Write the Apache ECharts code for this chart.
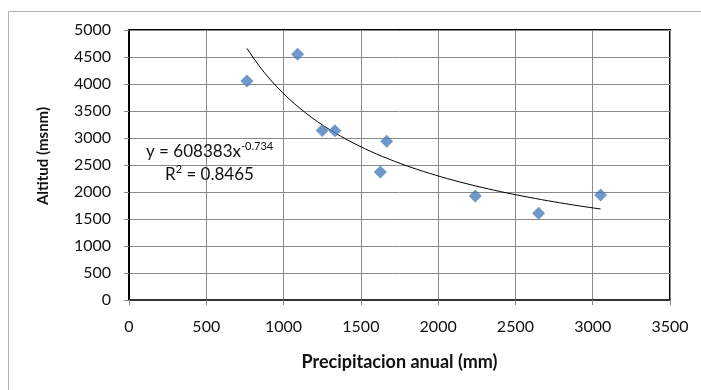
<!DOCTYPE html>
<html lang="es">
<head>
    <meta charset="UTF-8">
    <title>Altitud vs precipitacion</title>
    <script src="https://cdn.jsdelivr.net/npm/echarts@6/dist/echarts.min.js"></script>
    <style>
        html, body { margin: 0; padding: 0; background: #fff; }
        #main { width: 701px; height: 390px; }
    </style>
</head>
<body>
<div id="main"></div>
<script>
    // precipitacion anual (mm) y altitud (msnm)
    var precip = [763, 1091, 1250, 1332, 1626, 1667, 2240, 2650, 3051];
    var altitud = [4056, 4550, 3140, 3136, 2370, 2939, 1926, 1605, 1944];

    // coeficientes de la linea de tendencia (potencial) que muestra el grafico
    var coefA = 608383;
    var coefB = -0.734;
    var r2 = '0.8465';

    var puntos = precip.map(function (p, i) { return [p, altitud[i]]; });

    // curva de tendencia a partir de la ecuacion mostrada
    var xMin = Math.min.apply(null, precip), xMax = Math.max.apply(null, precip);
    var tendencia = [];
    for (var k = 0; k <= 60; k++) {
        var x = xMin + (xMax - xMin) * k / 60;
        tendencia.push([x, coefA * Math.pow(x, coefB)]);
    }

    var fuente = 'Lato, "Open Sans", sans-serif';
    var sinComa = function (v) { return String(v); };
    var myChart = echarts.init(document.getElementById('main'));

    var option = {
        animation: false,
        backgroundColor: '#fff',
        grid: {
            left: 129, right: 31, top: 30, bottom: 90,
            show: true, borderColor: '#000', borderWidth: 2
        },
        xAxis: {
            type: 'value', min: 0, max: 3500, interval: 500,
            name: 'Precipitacion anual (mm)',
            nameLocation: 'middle', nameGap: 53,
            nameTextStyle: { fontFamily: fuente, fontSize: 18, fontWeight: 'bold', color: '#111' },
            axisLine: { show: true, onZero: false, lineStyle: { color: '#333', width: 2 } },
            axisTick: { show: true, length: 5, lineStyle: { color: '#888' } },
            axisLabel: { fontFamily: fuente, fontSize: 16, color: '#111', margin: 19, formatter: sinComa },
            splitLine: { show: true, lineStyle: { color: '#8a8a8a', width: 1 } }
        },
        yAxis: {
            type: 'value', min: 0, max: 5000, interval: 500,
            axisLine: { show: true, lineStyle: { color: '#000', width: 2 } },
            axisTick: { show: true, length: 5, lineStyle: { color: '#888' } },
            axisLabel: { fontFamily: fuente, fontSize: 16, color: '#111', margin: 18, formatter: sinComa },
            splitLine: { show: true, lineStyle: { color: '#8a8a8a', width: 1 } }
        },
        graphic: [
            {
                type: 'rect', silent: true, z: -1,
                shape: { x: 8.5, y: 11.5, width: 720, height: 400 },
                style: { fill: 'none', stroke: '#b0b0b0', lineWidth: 1 }
            },
            {
                // titulo del eje y, un poco por encima del centro como en el original
                type: 'text', x: 43, y: 156, rotation: Math.PI / 2, z: 100,
                style: {
                    text: 'Altitud (msnm)', fontFamily: fuente, fontSize: 15, fontWeight: 'bold',
                    fill: '#111', align: 'center', verticalAlign: 'middle'
                }
            },
            {
                type: 'text', left: 146, top: 141, z: 100,
                style: {
                    text: '{n|y = ' + coefA + 'x}{s|' + coefB + '}',
                    rich: {
                        n: { fontFamily: fuente, fontSize: 17, fill: '#111' },
                        s: { fontFamily: fuente, fontSize: 11, fill: '#111', padding: [0, 0, 10, 0] }
                    }
                }
            },
            {
                type: 'text', left: 165, top: 164, z: 100,
                style: {
                    text: '{n|R}{s|2}{n| = ' + r2 + '}',
                    rich: {
                        n: { fontFamily: fuente, fontSize: 17, fill: '#111' },
                        s: { fontFamily: fuente, fontSize: 11, fill: '#111', padding: [0, 0, 10, 0] }
                    }
                }
            }
        ],
        series: [
            {
                type: 'line', data: tendencia, showSymbol: false, smooth: false,
                lineStyle: { color: '#000', width: 1 }, z: 3, silent: true
            },
            {
                type: 'scatter', data: puntos, symbol: 'diamond', symbolSize: [13, 13],
                itemStyle: { color: '#4a7ebb' }, z: 4
            }
        ]
    };

    myChart.setOption(option);
</script>
</body>
</html>
